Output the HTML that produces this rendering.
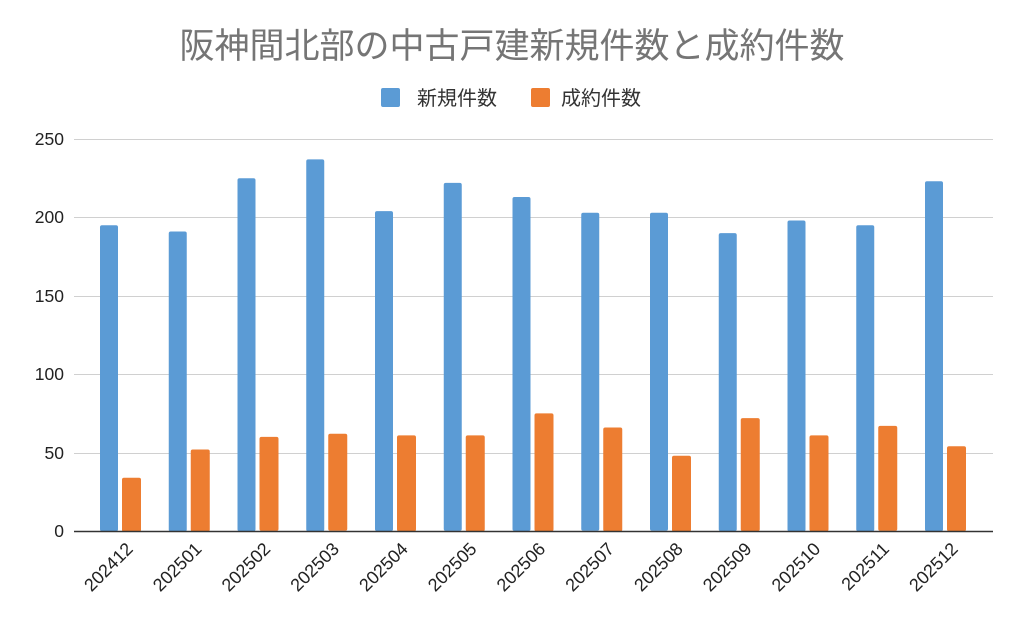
<!DOCTYPE html>
<html><head><meta charset="utf-8"><style>body{margin:0;background:#fff}svg{display:block}text{font-family:"Liberation Sans","Noto Sans CJK JP",sans-serif}</style></head><body>
<svg width="1024" height="626" xmlns="http://www.w3.org/2000/svg">
<rect width="1024" height="626" fill="#fff"/>
<text x="512" y="58" text-anchor="middle" font-size="35" fill="#757575">阪神間北部の中古戸建新規件数と成約件数</text>
<rect x="381" y="88" width="19" height="19" rx="2" fill="#5b9bd5"/>
<text x="417" y="105" font-size="20" fill="#333">新規件数</text>
<rect x="531" y="88" width="19" height="19" rx="2" fill="#ed7d31"/>
<text x="561" y="105" font-size="20" fill="#333">成約件数</text>
<g stroke="#d0d0d0" stroke-width="1">
<line x1="74" x2="993" y1="139.5" y2="139.5"/><line x1="74" x2="993" y1="217.5" y2="217.5"/><line x1="74" x2="993" y1="296.5" y2="296.5"/><line x1="74" x2="993" y1="374.5" y2="374.5"/><line x1="74" x2="993" y1="453.5" y2="453.5"/>
</g>
<g font-size="17.5" fill="#222" text-anchor="end">
<text x="64" y="145">250</text><text x="64" y="223">200</text><text x="64" y="302">150</text><text x="64" y="380">100</text><text x="64" y="459">50</text><text x="64" y="537">0</text>
</g>
<g fill="#5b9bd5">
<rect x="100" y="225.2" width="18" height="306" rx="2"/>
<rect x="168.75" y="231.5" width="18" height="300" rx="2"/>
<rect x="237.5" y="178.2" width="18" height="353" rx="2"/>
<rect x="306.25" y="159.4" width="18" height="372" rx="2"/>
<rect x="375" y="211.1" width="18" height="320" rx="2"/>
<rect x="443.75" y="182.9" width="18" height="348" rx="2"/>
<rect x="512.5" y="197" width="18" height="334" rx="2"/>
<rect x="581.25" y="212.7" width="18" height="318" rx="2"/>
<rect x="650" y="212.7" width="18" height="318" rx="2"/>
<rect x="718.75" y="233.1" width="18" height="298" rx="2"/>
<rect x="787.5" y="220.5" width="18" height="311" rx="2"/>
<rect x="856.25" y="225.2" width="18" height="306" rx="2"/>
<rect x="925" y="181.3" width="18" height="350" rx="2"/>
</g>
<g fill="#ed7d31">
<rect x="122" y="477.7" width="19" height="54" rx="2"/>
<rect x="190.75" y="449.5" width="19" height="82" rx="2"/>
<rect x="259.5" y="436.9" width="19" height="94" rx="2"/>
<rect x="328.25" y="433.8" width="19" height="97" rx="2"/>
<rect x="397" y="435.4" width="19" height="96" rx="2"/>
<rect x="465.75" y="435.4" width="19" height="96" rx="2"/>
<rect x="534.5" y="413.4" width="19" height="118" rx="2"/>
<rect x="603.25" y="427.5" width="19" height="104" rx="2"/>
<rect x="672" y="455.7" width="19" height="76" rx="2"/>
<rect x="740.75" y="418.1" width="19" height="113" rx="2"/>
<rect x="809.5" y="435.4" width="19" height="96" rx="2"/>
<rect x="878.25" y="425.9" width="19" height="105" rx="2"/>
<rect x="947" y="446.3" width="19" height="85" rx="2"/>
</g>
<line x1="74" x2="993" y1="531.5" y2="531.5" stroke="#333" stroke-width="1.5"/>
<g font-size="18" fill="#222" text-anchor="end">
<text transform="translate(134,550) rotate(-45)">202412</text>
<text transform="translate(202.75,550) rotate(-45)">202501</text>
<text transform="translate(271.5,550) rotate(-45)">202502</text>
<text transform="translate(340.25,550) rotate(-45)">202503</text>
<text transform="translate(409,550) rotate(-45)">202504</text>
<text transform="translate(477.75,550) rotate(-45)">202505</text>
<text transform="translate(546.5,550) rotate(-45)">202506</text>
<text transform="translate(615.25,550) rotate(-45)">202507</text>
<text transform="translate(684,550) rotate(-45)">202508</text>
<text transform="translate(752.75,550) rotate(-45)">202509</text>
<text transform="translate(821.5,550) rotate(-45)">202510</text>
<text transform="translate(890.25,550) rotate(-45)">202511</text>
<text transform="translate(959,550) rotate(-45)">202512</text>
</g>
</svg>
</body></html>
